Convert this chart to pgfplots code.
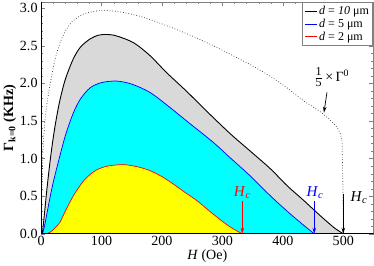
\documentclass[border=0pt]{standalone}
\usepackage{fontspec}
\setmainfont{Liberation Serif}
\usepackage{pgfplots}
\pgfplotsset{compat=1.18}
\usepackage{pgfplotstable}
\usetikzlibrary{arrows.meta}
\definecolor{mycyan}{RGB}{0,255,255}
\definecolor{myyellow}{RGB}{255,255,0}
\definecolor{mygray}{RGB}{217,217,217}
\definecolor{myblue}{RGB}{0,0,255}
\definecolor{myred}{RGB}{255,0,0}

\pgfplotstableread{
H v
0 0
2 0
6 0.30
10 0.62
15 0.97
20 1.27
25 1.52
31 1.77
40 2.05
53 2.32
65 2.48
81 2.59
95 2.64
109 2.65
125 2.63
153 2.54
180 2.37
208 2.14
240 1.90
274 1.63
313 1.33
346 1.10
380 0.86
407 0.64
435 0.44
462 0.24
485 0.08
500 0
}\blackdata

\pgfplotstableread{
H v
0 0
2 0
5 0.08
9 0.24
14 0.45
20 0.68
29 0.97
40 1.30
53 1.60
65 1.79
81 1.94
100 2.01
125 2.03
150 1.99
180 1.88
210 1.70
247 1.46
269 1.32
290 1.18
313 1.01
346 0.77
380 0.50
410 0.28
435 0.11
452 0
}\bluedata

\pgfplotstableread{
H v
0 0
9 0
15 0.02
22 0.07
31 0.15
40 0.30
53 0.50
62 0.61
70 0.70
80 0.78
92 0.85
110 0.90
136 0.92
160 0.89
180 0.84
200 0.76
219 0.66
240 0.54
258 0.44
276 0.32
296 0.19
315 0.08
333 0
}\reddata

\pgfplotstableread{
H v
0 0
2 0.80
4 1.24
8 1.62
15 1.99
22 2.28
31 2.53
42 2.72
53 2.83
70 2.92
90 2.96
105 2.97
130 2.95
164 2.89
200 2.79
247 2.64
290 2.48
329 2.32
346 2.25
380 2.09
407 1.94
434 1.77
455 1.66
467 1.59
480 1.50
490 1.41
495 1.33
498 1.24
}\dotdata

\pgfplotstableread{
H v
498 1.24
499.5 0.60
500 0
550 0
}\dotend

\begin{document}
\begin{tikzpicture}
\begin{axis}[
  scale only axis, width=330bp, height=230bp,
  xmin=0, xmax=550, ymin=0, ymax=3.08,
  xtick={0,100,...,500}, ytick={0,0.5,...,3.0},
  minor x tick num=4, minor y tick num=4,
  tick align=inside, major tick length=4bp, minor tick length=2bp,
  /pgf/number format/assume math mode=true,
  yticklabel style={/pgf/number format/.cd, fixed, fixed zerofill, precision=1},
  tick label style={font=\fontsize{14}{14}\selectfont},
  xticklabel style={yshift=1pt},
  xlabel style={font=\fontsize{14}{14}\selectfont, yshift=3pt},
  ylabel style={font=\fontsize{14}{14}\selectfont\bfseries, yshift=-3pt},
  xlabel={\textit{H} (Oe)},
  ylabel={Γ\textsubscript{k=0} (KHz)},
  axis line style={draw=gray, line width=1pt},
  legend style={at={(1,1)}, anchor=north east, draw=gray, line width=1.2pt, fill=white,
    font=\fontsize{12}{13}\selectfont, inner xsep=2pt, inner ysep=1.5pt, row sep=-1pt,
    cells={anchor=west}},
  legend image code/.code={\draw[line width=1pt,#1] (0cm,0cm) -- (0.42cm,0cm);},
]
\addplot[fill=mygray, draw=none, forget plot, smooth] table {\blackdata} \closedcycle;
\addplot[fill=mycyan, draw=none, forget plot, smooth] table {\bluedata} \closedcycle;
\addplot[fill=myyellow, draw=none, forget plot, smooth] table {\reddata} \closedcycle;
\addplot[dotted, gray!40!black, line width=0.7pt, forget plot, smooth] table {\dotdata};
\addplot[dotted, gray!40!black, line width=0.7pt, forget plot] table {\dotend};
\addplot[black, line width=0.9pt, smooth, forget plot] table {\blackdata};
\addplot[myblue, line width=0.7pt, smooth, forget plot] table {\bluedata};
\addplot[myred, line width=0.7pt, smooth, forget plot] table {\reddata};
\addplot[myblue, line width=0.8pt, forget plot] coordinates {(452,0) (468,0)};
\addplot[myred, line width=0.8pt, forget plot] coordinates {(333,0) (346,0)};
\addlegendimage{draw=black, line width=1pt}
\addlegendentry{\textit{d} = \textit{10} μm}
\addlegendimage{draw=myblue, line width=1pt}
\addlegendentry{\textit{d} = 5 μm}
\addlegendimage{draw=myred, line width=1pt}
\addlegendentry{\textit{d} = 2 μm}
\draw[black, line width=0.8pt] (rel axis cs:0,1) -- (rel axis cs:0,0) -- (rel axis cs:1,0);
% annotations
\node[font=\fontsize{14}{14}\selectfont, inner sep=0pt] at (axis cs:481,2.08) {$\frac{\mbox{\fontsize{12}{12}\selectfont 1}}{\mbox{\fontsize{12}{12}\selectfont 5}}$\,×\,Γ\textsuperscript{0}};
\draw[-{Stealth[length=6pt,width=3.5pt]}, line width=0.7pt] (axis cs:473,1.88) -- (axis cs:468,1.61);
\node[myred, font=\fontsize{15}{15}\selectfont, inner sep=0pt] at (axis cs:333,0.55) {\textit{H}\textsubscript{\textit{c}}};
\draw[myred, -{Stealth[length=6pt,width=3.5pt]}, line width=0.7pt] (axis cs:333,0.43) -- (axis cs:333,0);
\node[myblue, font=\fontsize{15}{15}\selectfont, inner sep=0pt] at (axis cs:453,0.55) {\textit{H}\textsubscript{\textit{c}}};
\draw[myblue, -{Stealth[length=6pt,width=3.5pt]}, line width=0.7pt] (axis cs:452,0.43) -- (axis cs:452,0);
\node[black, font=\fontsize{15}{15}\selectfont, inner sep=0pt] at (axis cs:526,0.48) {\textit{H}\textsubscript{\textit{c}}};
\draw[black, -{Stealth[length=6pt,width=3.5pt]}, line width=0.7pt] (axis cs:500,0.53) -- (axis cs:500,0);
\end{axis}
\end{tikzpicture}
\end{document}
